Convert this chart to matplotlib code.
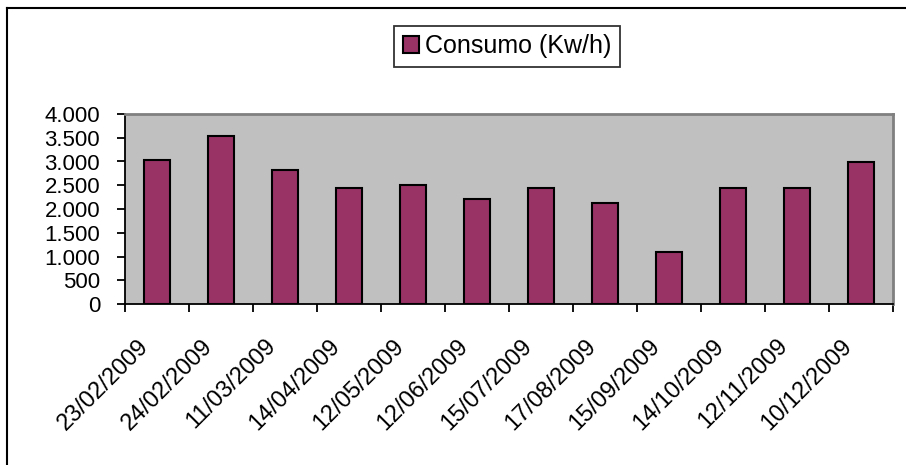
import matplotlib.pyplot as plt
from matplotlib.lines import Line2D
from matplotlib.ticker import FuncFormatter, MultipleLocator

# Dados
datas = ["23/02/2009", "24/02/2009", "11/03/2009", "14/04/2009", "12/05/2009",
         "12/06/2009", "15/07/2009", "17/08/2009", "15/09/2009", "14/10/2009",
         "12/11/2009", "10/12/2009"]
consumo = [3040, 3530, 2830, 2450, 2500, 2210, 2450, 2120, 1100, 2450, 2450, 2990]
serie = "Consumo (Kw/h)"

plt.rcParams["font.family"] = ["Liberation Sans", "DejaVu Sans"]

W, H = 906, 465
fig = plt.figure(figsize=(W / 100, H / 100), dpi=100)
fig.patch.set_facecolor("white")

# Área do gráfico em pixels
x0, x1, y0, y1 = 125, 893, 114, 304
ax = fig.add_axes([x0 / W, 1 - y1 / H, (x1 - x0) / W, (y1 - y0) / H])
ax.set_facecolor("#C0C0C0")

n = len(datas)
pos = [i + 0.5 for i in range(n)]
ax.bar(pos, consumo, width=0.4, color="#993366", edgecolor="black",
       linewidth=1.5, label=serie, zorder=2)

ax.set_xlim(0, n)
ax.set_ylim(0, 4000)
ax.yaxis.set_major_locator(MultipleLocator(500))
ax.yaxis.set_major_formatter(
    FuncFormatter(lambda v, p: f"{int(v):,}".replace(",", ".")))
ax.tick_params(axis="y", direction="out", length=6, width=1.3, pad=12,
               labelsize=16, colors="black")

ax.set_xticks(range(n + 1))
ax.set_xticklabels([])
ax.tick_params(axis="x", direction="out", length=6, width=1.3)

# Rótulos de data rotacionados
for i, d in enumerate(datas):
    ax.annotate(d, xy=(i + 0.5, 0), xytext=(-20, -31),
                textcoords="offset pixels", rotation=45, ha="right",
                va="top", rotation_mode="anchor", fontsize=17)

for s in ["left", "bottom"]:
    ax.spines[s].set_color("black")
    ax.spines[s].set_linewidth(1.3)
for s in ["top", "right"]:
    ax.spines[s].set_color("#808080")
    ax.spines[s].set_linewidth(2)

leg = fig.legend(loc="center", bbox_to_anchor=(507 / W, 1 - 46.5 / H),
                 fontsize=18, frameon=True, fancybox=False, handlelength=0.65,
                 handleheight=0.65, handletextpad=0.25, borderpad=0.35,
                 borderaxespad=0)
leg.get_frame().set_edgecolor("black")
leg.get_frame().set_linewidth(1.3)

# Borda externa (apenas topo e esquerda visíveis)
fig.add_artist(Line2D([7 / W, 7 / W], [0, 1 - 8 / H], color="black", lw=1.5))
fig.add_artist(Line2D([7 / W, 1], [1 - 8 / H, 1 - 8 / H], color="black", lw=1.5))

fig.savefig("out.png", dpi=100)
